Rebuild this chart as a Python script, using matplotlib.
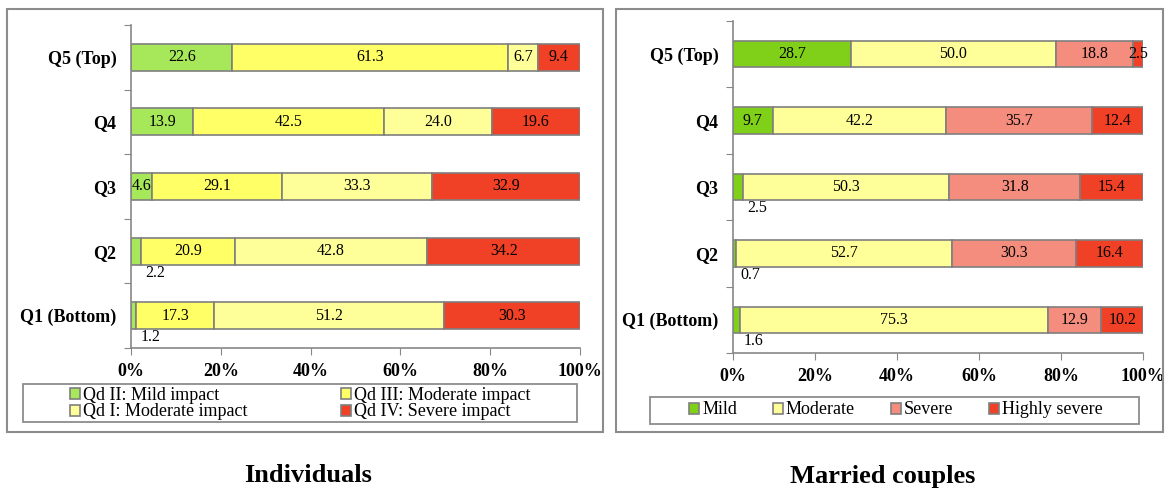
import numpy as np
import matplotlib.pyplot as plt
from matplotlib.patches import Rectangle

plt.rcParams['font.family'] = ['Liberation Serif', 'DejaVu Serif']

quintiles = ['Q1 (Bottom)', 'Q2', 'Q3', 'Q4', 'Q5 (Top)']

# Individuals (Q1 .. Q5)
ind_mild = [1.2, 2.2, 4.6, 13.9, 22.6]
ind_mod3 = [17.3, 20.9, 29.1, 42.5, 61.3]
ind_mod1 = [51.2, 42.8, 33.3, 24.0, 6.7]
ind_severe = [30.3, 34.2, 32.9, 19.6, 9.4]
ind_labels = ['Qd II: Mild impact', 'Qd III: Moderate impact',
              'Qd I: Moderate impact', 'Qd IV: Severe impact']
ind_colors = ['#a6e85a', '#ffff66', '#ffff99', '#f04025']

# Married couples (Q1 .. Q5)
mc_mild = [1.6, 0.7, 2.5, 9.7, 28.7]
mc_mod = [75.3, 52.7, 50.3, 42.2, 50.0]
mc_severe = [12.9, 30.3, 31.8, 35.7, 18.8]
mc_high = [10.2, 16.4, 15.4, 12.4, 2.5]
mc_labels = ['Mild', 'Moderate', 'Severe', 'Highly severe']
mc_colors = ['#80d01a', '#ffff99', '#f58d7e', '#f04025']

W, H = 1170, 488
fig = plt.figure(figsize=(W / 100, H / 100), dpi=100)


def px_axes(x0, x1, y0, y1):
    return fig.add_axes([x0 / W, 1 - y1 / H, (x1 - x0) / W, (y1 - y0) / H])


def px_box(x0, x1, y0, y1, lw):
    fig.patches.append(Rectangle((x0 / W, 1 - y1 / H), (x1 - x0) / W,
                                 (y1 - y0) / H, transform=fig.transFigure,
                                 fill=False, edgecolor='#8c8c8c', lw=lw))


def stacked(ax, series, colors, labels, height, below_thresh):
    y = np.arange(len(quintiles))
    left = np.zeros(len(quintiles))
    handles = []
    for k, (vals, col, lab) in enumerate(zip(series, colors, labels)):
        vals = np.array(vals)
        bars = ax.barh(y, vals, left=left, height=height, color=col,
                       edgecolor='#7f7f7f', linewidth=1.2, label=lab)
        handles.append(bars)
        for i, v in enumerate(vals):
            if k == 0 and v < below_thresh:
                # tiny segments get their value just under the bar
                ax.annotate(f'{v:.1f}', (v, y[i] - height / 2), xytext=(3, 0),
                            textcoords='offset points', ha='left', va='top',
                            fontsize=11.5)
            else:
                ax.text(left[i] + v / 2, y[i], f'{v:.1f}', ha='center',
                        va='center', fontsize=11.5)
        left += vals
    ax.set_xlim(0, 100)
    ax.set_ylim(-0.5, len(quintiles) - 0.5)
    ax.set_xticks(np.arange(0, 101, 20))
    ax.set_xticklabels([f'{t}%' for t in range(0, 101, 20)],
                       fontsize=13, fontweight='bold')
    ax.set_yticks(np.arange(-0.5, len(quintiles), 1.0))
    ax.set_yticklabels([])
    ax.set_yticks(y, minor=True)
    ax.set_yticklabels(quintiles, minor=True, fontsize=13, fontweight='bold')
    ax.tick_params(axis='y', which='minor', length=0, pad=10.5)
    ax.tick_params(axis='y', which='major', length=5, color='#888888')
    ax.tick_params(axis='x', length=5, color='#888888', pad=6)
    for s in ['top', 'right']:
        ax.spines[s].set_visible(False)
    for s in ['left', 'bottom']:
        ax.spines[s].set_color('#888888')
        ax.spines[s].set_linewidth(1.2)
    return handles


ax1 = px_axes(131, 580, 25, 348)
h1 = stacked(ax1, [ind_mild, ind_mod3, ind_mod1, ind_severe], ind_colors,
             ind_labels, 0.42, 3)

ax2 = px_axes(733, 1143, 21, 353)
h2 = stacked(ax2, [mc_mild, mc_mod, mc_severe, mc_high], mc_colors,
             mc_labels, 0.4, 3)

# panel frames
px_box(7, 603, 9, 432, 1.5)
px_box(616, 1163, 9, 432, 1.5)

leg_kw = dict(fontsize=13, handlelength=0.55, handleheight=0.55,
              handletextpad=0.15, borderaxespad=0, frameon=False,
              borderpad=0, labelspacing=0.0, loc='center')
fig.legend([h1[0], h1[2], h1[1], h1[3]],
           [ind_labels[0], ind_labels[2], ind_labels[1], ind_labels[3]],
           ncol=2, columnspacing=5.2,
           bbox_to_anchor=(300 / W, 1 - 403.5 / H), **leg_kw)
px_box(23, 577, 384, 422, 1.3)

fig.legend(h2, mc_labels, ncol=4, columnspacing=2.0,
           bbox_to_anchor=(896 / W, 1 - 410 / H), **leg_kw)
px_box(650, 1139, 397, 424, 1.3)

fig.text(308 / W, 1 - 476 / H, 'Individuals', ha='center', va='center',
         fontsize=19, fontweight='bold')
fig.text(883 / W, 1 - 476 / H, 'Married couples', ha='center', va='center',
         fontsize=19, fontweight='bold')

fig.savefig('out.png', dpi=100)
